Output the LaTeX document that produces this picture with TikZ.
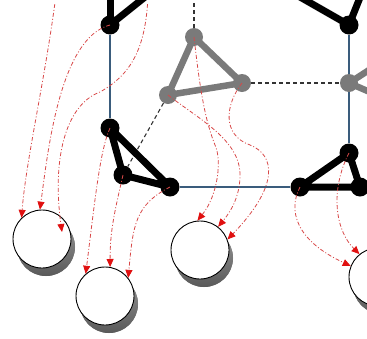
\documentclass[tikz,border=0pt]{standalone}
\usetikzlibrary{arrows.meta,shadows}
\definecolor{edgeblue}{HTML}{3A5C7C}
\definecolor{nodegray}{HTML}{7A7A7A}
\definecolor{flowred}{HTML}{D84848}
\definecolor{tipred}{HTML}{E01010}
\pgfdeclarelayer{bg}
\pgfsetlayers{bg,main}
\begin{document}
\begin{tikzpicture}[x=1pt,y=-1pt,
  blacknode/.style={circle,fill=black,inner sep=0pt,minimum size=19pt},
  graynode/.style={circle,fill=nodegray,inner sep=0pt,minimum size=18pt},
  blackedge/.style={line width=7pt,black,line join=round},
  grayedge/.style={line width=6.5pt,nodegray,line join=round},
  blueedge/.style={line width=2.2pt,edgeblue},
  linkdash/.style={line width=1.1pt,black!80,dash pattern=on 4pt off 3pt},
  flow/.style={flowred,line width=0.8pt,dash pattern=on 4pt off 2pt on 1pt off 2pt,
    -{Triangle[length=8pt,width=7pt,color=tipred]}},
  disk/.style={circle,draw=black,line width=0.9pt,fill=white,inner sep=0pt,
    minimum size=58pt,
    drop shadow={shadow xshift=4pt,shadow yshift=-8pt,
      top color=black!40,bottom color=black!65,opacity=1}}
]
\useasboundingbox (0,0) rectangle (367,338);
\clip (0,4) rectangle (367,338);

% off-frame anchors
\coordinate (a2) at (160,-15);
\coordinate (a3) at (110,-15);
\coordinate (t2) at (279,-15);
\coordinate (t3) at (365,-15);
\coordinate (gtop) at (194,-10);
\coordinate (gr2) at (400,50);
\coordinate (gr3) at (400,105);
\coordinate (s1) at (56,-5);
\coordinate (s3) at (148,-5);

% gray triangle
\node[graynode] (g1) at (194,37) {};
\node[graynode] (g2) at (168,95) {};
\node[graynode] (g3) at (242,83) {};
\node[graynode] (gr) at (349,83) {};

% black vertices
\node[blacknode] (a1) at (110,25) {};
\node[blacknode] (b1) at (110,128) {};
\node[blacknode] (b2) at (123,175) {};
\node[blacknode] (b3) at (170,187) {};
\node[blacknode] (a4) at (349,25) {};
\node[blacknode] (r1) at (300,187) {};
\node[blacknode] (r2) at (349,153) {};
\node[blacknode] (r3) at (360,187) {};

\begin{pgfonlayer}{bg}
  \draw[linkdash] (g1) -- (gtop);
  \draw[linkdash] (g3) -- (gr);
  \draw[linkdash] (g2) -- (b2);
  \draw[blueedge] (a1) -- (b1);
  \draw[blueedge] (b3) -- (r1);
  \draw[blueedge] (a4) -- (r2);
  \draw[grayedge] (g1.center) -- (g2.center) -- (g3.center) -- cycle;
  \draw[grayedge] (gr.center) -- (gr2);
  \draw[grayedge] (gr.center) -- (gr3);
  \draw[blackedge] (b1.center) -- (b2.center) -- (b3.center) -- cycle;
  \draw[blackedge] (r1.center) -- (r2.center) -- (r3.center) -- cycle;
  \draw[blackedge] (a1.center) -- (a2);
  \draw[blackedge] (a1.center) -- (a3);
  \draw[blackedge] (a4.center) -- (t2);
  \draw[blackedge] (a4.center) -- (t3);
\end{pgfonlayer}

% disks
\node[disk] (c1) at (42,239) {};
\node[disk] (c2) at (105,296) {};
\node[disk] (c3) at (200,250) {};
\node[disk] (c4) at (378,277) {};
\coordinate (c1in) at (62,232);

% flows into the disks
\draw[flow] (s1) .. controls (45,80) and (26,160) .. (c1.134);
\draw[flow] (a1.center) .. controls (60,38) and (48,150) .. (c1.94);
\draw[flow] (s3) .. controls (146,50) and (130,75) .. (100,92)
             .. controls (65,105) and (52,160) .. (c1in);
\draw[flow] (b1.center) .. controls (100,150) and (95,200) .. (c2.131);
\draw[flow] (b2.center) .. controls (115,210) and (110,230) .. (c2.80);
\draw[flow] (b3.center) .. controls (135,205) and (133,225) .. (c2.38);
\draw[flow] (g1.center) .. controls (200,90) and (205,120) .. (215,145)
             .. controls (222,160) and (218,195) .. (c3.95);
\draw[flow] (g2.center) .. controls (200,120) and (240,140) .. (240,175)
             .. controls (240,195) and (232,210) .. (c3.52);
\draw[flow] (g3.center) .. controls (225,105) and (222,135) .. (250,145)
             .. controls (275,155) and (280,185) .. (c3.21);
\draw[flow] (r1.center) .. controls (288,210) and (295,240) .. (c4.158);
\draw[flow] (r2.center) .. controls (330,190) and (335,230) .. (c4.129);
\end{tikzpicture}
\end{document}
